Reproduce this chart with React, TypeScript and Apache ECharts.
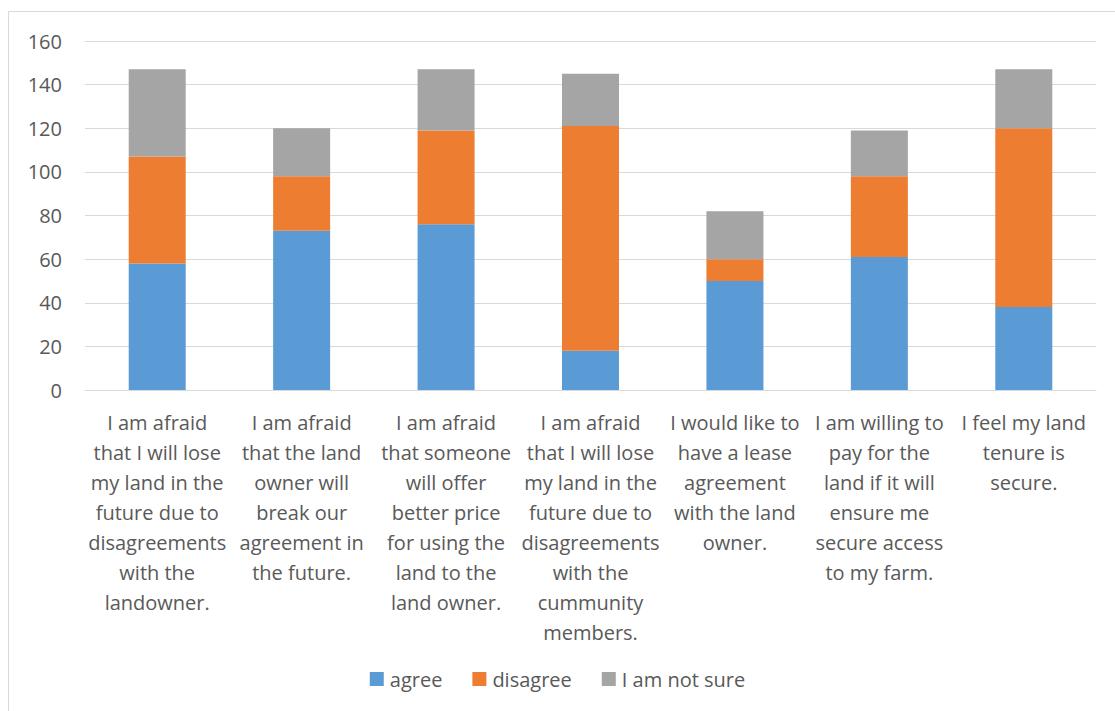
import React, { useEffect, useRef } from "react";
import * as echarts from "echarts";

const categories = [
  "I am afraid\nthat I will lose\nmy land in the\nfuture due to\ndisagreements\nwith the\nlandowner.",
  "I am afraid\nthat the land\nowner will\nbreak our\nagreement in\nthe future.",
  "I am afraid\nthat someone\nwill offer\nbetter price\nfor using the\nland to the\nland owner.",
  "I am afraid\nthat I will lose\nmy land in the\nfuture due to\ndisagreements\nwith the\ncummunity\nmembers.",
  "I would like to\nhave a lease\nagreement\nwith the land\nowner.",
  "I am willing to\npay for the\nland if it will\nensure me\nsecure access\nto my farm.",
  "I feel my land\ntenure is\nsecure.",
];

const agree = [58, 73, 76, 18, 50, 61, 38];
const disagree = [49, 25, 43, 103, 10, 37, 82];
const notSure = [40, 22, 28, 24, 22, 21, 27];

const FONT = "'Open Sans', 'Noto Sans', sans-serif";
const TEXT = "#595959";

export default function App() {
  const ref = useRef<HTMLDivElement>(null);

  useEffect(() => {
    if (!ref.current) return;
    const chart = echarts.init(ref.current, undefined, { renderer: "svg" });
    const bar = (name: string, data: number[], color: string) => ({
      name,
      type: "bar",
      stack: "total",
      data,
      barWidth: 57,
      itemStyle: { color },
    });
    chart.setOption({
      animation: false,
      textStyle: { fontFamily: FONT },
      graphic: [
        {
          type: "rect",
          shape: { x: 8.5, y: 11.5, width: 1120, height: 720 },
          style: { fill: "none", stroke: "#d9d9d9", lineWidth: 1 },
          silent: true,
        },
      ],
      grid: { left: 85, right: 19, top: 41, bottom: 321, containLabel: false },
      legend: {
        bottom: 17,
        left: "center",
        itemWidth: 14,
        itemHeight: 14,
        itemGap: 30,
        icon: "rect",
        textStyle: { color: TEXT, fontSize: 20, fontFamily: FONT, padding: [0, 0, 0, 1] },
        data: ["agree", "disagree", "I am not sure"],
      },
      xAxis: {
        type: "category",
        data: categories,
        axisLine: { lineStyle: { color: "#d9d9d9", width: 1 } },
        axisTick: { show: false },
        axisLabel: {
          color: TEXT,
          fontSize: 20,
          lineHeight: 30,
          margin: 17,
          interval: 0,
          fontFamily: FONT,
        },
      },
      yAxis: {
        type: "value",
        min: 0,
        max: 160,
        interval: 20,
        axisLine: { show: false },
        axisTick: { show: false },
        axisLabel: { color: TEXT, fontSize: 20, margin: 23, fontFamily: FONT },
        splitLine: { lineStyle: { color: "#d9d9d9", width: 1 } },
      },
      series: [
        bar("agree", agree, "#5b9bd5"),
        bar("disagree", disagree, "#ed7d31"),
        bar("I am not sure", notSure, "#a5a5a5"),
      ],
    });
    return () => chart.dispose();
  }, []);

  return (
    <div
      ref={ref}
      style={{ position: "fixed", left: 0, top: 0, width: 1115, height: 711, background: "#fff" }}
    />
  );
}
